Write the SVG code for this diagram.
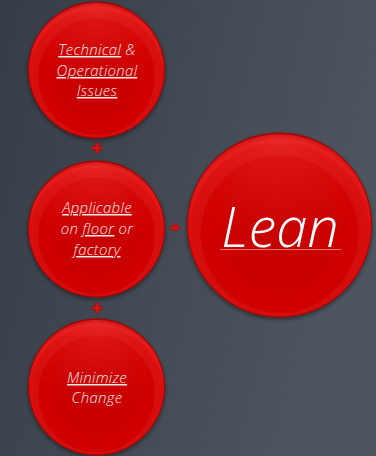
<svg xmlns="http://www.w3.org/2000/svg" width="376" height="456" viewBox="0 0 376 456">
<defs>
<linearGradient id="bg" x1="0" y1="0" x2="1" y2="0.3">
<stop offset="0" stop-color="#363d46"/>
<stop offset="1" stop-color="#4d555e"/>
</linearGradient>
<radialGradient id="ball" cx="0.5" cy="0.55" r="0.55">
<stop offset="0" stop-color="#c40000"/>
<stop offset="0.75" stop-color="#d00404"/>
<stop offset="0.94" stop-color="#e01515"/>
<stop offset="1" stop-color="#b00000"/>
</radialGradient>
<radialGradient id="gloss" cx="0.5" cy="0.05" r="0.6">
<stop offset="0" stop-color="#ff5050" stop-opacity="0.3"/>
<stop offset="1" stop-color="#ff3030" stop-opacity="0"/>
</radialGradient>
<filter id="sh" x="-20%" y="-20%" width="140%" height="140%">
<feGaussianBlur in="SourceAlpha" stdDeviation="2"/>
<feOffset dx="0" dy="2"/>
<feComponentTransfer><feFuncA type="linear" slope="0.45"/></feComponentTransfer>
<feMerge><feMergeNode/><feMergeNode in="SourceGraphic"/></feMerge>
</filter>
</defs>
<style>
.ball{fill:url(#ball);stroke:#a80000;stroke-width:1;filter:url(#sh)}
.gl{fill:url(#gloss)}
.t{font-family:"Open Sans","DejaVu Sans",sans-serif;font-style:italic;font-weight:300;fill:#f6eaea;text-anchor:middle;font-size:15px;letter-spacing:0.3px}
.u{text-decoration:underline;text-decoration-thickness:1px}
.big{font-size:56px;letter-spacing:0px;fill:#ffffff}
.ul{stroke:#e07070;stroke-width:1}
.con{fill:#d81010;stroke:#b00000;stroke-width:0.5}
</style>
<rect width="376" height="456" fill="url(#bg)"/>
<g id="connectors">
<path class="con" d="M95.5 143h3v3.5h3.5v3h-3.5v3.5h-3v-3.5h-3.5v-3h3.5z"/>
<path class="con" d="M95.5 303h3v3.5h3.5v3h-3.5v3.5h-3v-3.5h-3.5v-3h3.5z"/>
<path class="con" d="M171 225.5h4v-2.5l5 4.5l-5 4.5v-2.5h-4z"/>
</g>
<g id="n1">
<circle class="ball" cx="96.5" cy="70" r="68"/>
<circle class="gl" cx="96.5" cy="70" r="67"/>
<text class="t" x="97" y="55"><tspan class="u">Technical</tspan> &amp;</text>
<text class="t" x="97" y="76"><tspan class="u">Operational</tspan></text>
<text class="t" x="97" y="96"><tspan class="u">Issues</tspan></text>
</g>
<g id="n2">
<circle class="ball" cx="96.5" cy="229" r="68"/>
<circle class="gl" cx="96.5" cy="229" r="67"/>
<text class="t" x="97" y="213"><tspan class="u">Applicable</tspan></text>
<text class="t" x="97" y="234">on <tspan class="u">floor</tspan> or</text>
<text class="t" x="97" y="255"><tspan class="u">factory</tspan></text>
</g>
<g id="n3">
<circle class="ball" cx="96.5" cy="387" r="68"/>
<circle class="gl" cx="96.5" cy="387" r="67"/>
<text class="t" x="97" y="383"><tspan class="u">Minimize</tspan></text>
<text class="t" x="97" y="403">Change</text>
</g>
<g id="n4">
<circle class="ball" cx="279.5" cy="225" r="92"/>
<circle class="gl" cx="279.5" cy="225" r="91"/>
<text class="t big" x="280" y="247">Lean</text>
<line class="ul" x1="220" y1="249.5" x2="341" y2="249.5"/>
</g>
</svg>
